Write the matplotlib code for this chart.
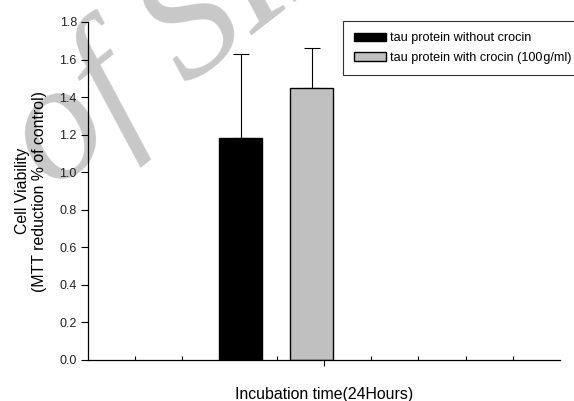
import matplotlib
matplotlib.use('Agg')
import matplotlib.pyplot as plt
from matplotlib.ticker import FixedLocator

plt.rcParams['font.family'] = ['Liberation Sans', 'DejaVu Sans']

# data
series = ['tau protein without crocin', 'tau protein with crocin (100\u200ag/ml)']
values = [1.18, 1.45]
errors = [0.45, 0.21]
colors = ['black', '#c0c0c0']
positions = [3.24, 4.74]
bar_width = 0.91

fig = plt.figure(figsize=(5.74, 4.01), dpi=100)

# watermark behind the chart
fig.text(52 / 574, 1 - 192 / 401, 'of SID', fontsize=120,
         family=['Liberation Serif', 'DejaVu Serif'], style='italic',
         color='#c8c8c8', rotation=38, rotation_mode='anchor',
         ha='left', va='baseline', zorder=-1)

ax = fig.add_axes([88 / 574, 1 - 360 / 401, 472 / 574, 338 / 401])
ax.patch.set_alpha(0)

for pos, val, err, col, lab in zip(positions, values, errors, colors, series):
    ax.bar(pos, val, width=bar_width, color=col, edgecolor='black', linewidth=1,
           label=lab, zorder=2)
    ax.errorbar(pos, val, yerr=[[0], [err]], fmt='none', ecolor='black',
                elinewidth=0.8, capsize=5.5, capthick=0.8, zorder=1)

ax.set_xlim(0, 10)
ax.set_ylim(0, 1.8)
ax.set_yticks([0.0, 0.2, 0.4, 0.6, 0.8, 1.0, 1.2, 1.4, 1.6, 1.8])
ax.set_yticklabels(['0.0', '0.2', '0.4', '0.6', '0.8', '1.0', '1.2', '1.4', '1.6', '1.8'])
ax.set_xticks([5])
ax.set_xticklabels([''])
ax.xaxis.set_minor_locator(FixedLocator([1, 2, 3, 4, 6, 7, 8, 9]))
ax.tick_params(axis='x', which='major', direction='out', length=4, width=0.8)
ax.tick_params(axis='x', which='minor', direction='in', length=3, width=0.8)
ax.tick_params(axis='y', direction='out', length=5, width=0.8, labelsize=9, pad=3,
               labelcolor='#222222')

for side in ['top', 'right']:
    ax.spines[side].set_visible(False)
ax.spines['left'].set_linewidth(0.9)
ax.spines['bottom'].set_linewidth(0.9)

ax.set_ylabel('Cell Viability\n(MTT reduction % of control)', fontsize=11.4,
              linespacing=1.2, labelpad=9)
ax.set_xlabel('Incubation time(24Hours)', fontsize=11.4, labelpad=12)

leg = ax.legend(loc='upper left', bbox_to_anchor=(343 / 574, 1 - 21 / 401),
                bbox_transform=fig.transFigure, fontsize=9.1, frameon=True,
                fancybox=False, edgecolor='black', borderaxespad=0,
                handlelength=2.5, handleheight=0.6, handletextpad=0.35,
                borderpad=0.9, labelspacing=0.6)
leg.get_frame().set_linewidth(0.8)

fig.savefig('out.png', dpi=100)
